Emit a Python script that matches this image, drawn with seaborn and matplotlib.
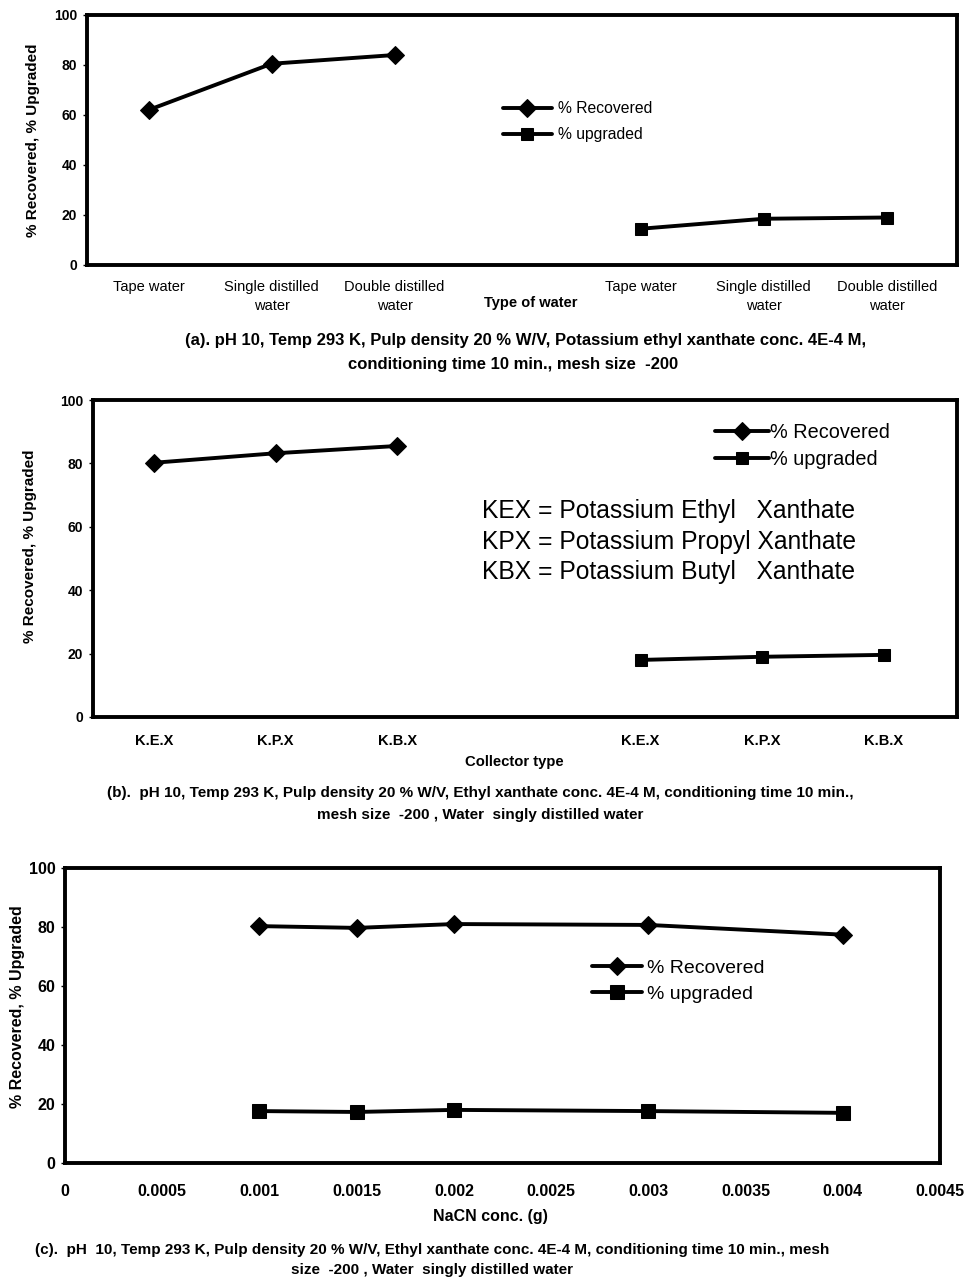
import matplotlib
matplotlib.use("Agg")
import matplotlib.pyplot as plt
import seaborn as sns
import numpy as np

# ---------------- data ----------------
water_labels = ["Tape water", "Single distilled\nwater", "Double distilled\nwater"]
a_recovered = [62, 80.5, 84]
a_upgraded = [14.5, 18.5, 19]

collector_labels = ["K.E.X", "K.P.X", "K.B.X"]
b_recovered = [80.2, 83.2, 85.5]
b_upgraded = [18, 19, 19.6]

nacn_conc = [0.001, 0.0015, 0.002, 0.003, 0.004]
c_recovered = [80.3, 79.7, 81, 80.7, 77.4]
c_upgraded = [17.6, 17.3, 18, 17.6, 17]

sns.set_style("white")
plt.rcParams['font.family'] = ['Liberation Sans', 'DejaVu Sans']
plt.rcParams.update({"text.color": "black", "axes.labelcolor": "black",
                     "xtick.color": "black", "ytick.color": "black"})

W, H = 964, 1277
fig = plt.figure(figsize=(W / 100, H / 100), dpi=100)


def add_ax(left, right, top, bottom):
    return fig.add_axes([left / W, 1 - bottom / H, (right - left) / W, (bottom - top) / H])


def style_ax(ax, tick_fs, label_fs):
    for s in ax.spines.values():
        s.set_visible(True)
        s.set_color("black")
        s.set_linewidth(2.8)
    ax.set_ylim(0, 100)
    ax.set_yticks([0, 20, 40, 60, 80, 100])
    ax.tick_params(axis="y", labelsize=tick_fs, length=3, width=1, direction="out", left=True,
                   pad=4, colors="black")
    for t in ax.get_yticklabels():
        t.set_fontweight("bold")
    ax.set_ylabel("% Recovered, % Upgraded", fontsize=label_fs, fontweight="bold", color="black")


def lines(ax, xr, yr, xu, yu, ms_d, ms_s, lw, legend_kw):
    sns.lineplot(x=xr, y=yr, ax=ax, color="black", marker="D", markersize=ms_d,
                 linewidth=lw, markeredgecolor="black", label="% Recovered")
    sns.lineplot(x=xu, y=yu, ax=ax, color="black", marker="s", markersize=ms_s,
                 linewidth=lw, markeredgecolor="black", label="% upgraded")
    leg = ax.legend(frameon=False, borderaxespad=0, borderpad=0, loc="center left", **legend_kw)
    for t in leg.get_texts():
        t.set_color("black")


# ---------------- panel (a) ----------------
ax = add_ax(87, 957, 15, 265)
pos_left = [0, 1, 2]
pos_right = [4, 5, 6]
lines(ax, pos_left, a_recovered, pos_right, a_upgraded, 9, 9, 2.8,
      dict(bbox_to_anchor=(0.478, 0.574), fontsize=11.3, handlelength=3.1,
           handletextpad=0.4, labelspacing=0.7))
style_ax(ax, 10, 11)
ax.set_xlim(-0.5, 6.57)
ax.set_xticks(pos_left + pos_right)
ax.set_xticklabels(water_labels + water_labels, fontsize=10.5, linespacing=1.45)
ax.tick_params(axis="x", length=0, pad=11, colors="black")
ax.set_xlabel("Type of water", fontsize=10.5, fontweight="bold")
ax.xaxis.set_label_coords(0.51, -0.124)
ax.yaxis.set_label_coords(-0.054, 0.5)
fig.text(526 / W, 1 - 341 / H,
         "(a). pH 10, Temp 293 K, Pulp density 20 % W/V, Potassium ethyl xanthate conc. 4E-4 M,",
         ha="center", va="center", fontsize=12, fontweight="bold")
fig.text(513 / W, 1 - 364 / H, "conditioning time 10 min., mesh size  -200",
         ha="center", va="center", fontsize=12, fontweight="bold")

# ---------------- panel (b) ----------------
ax = add_ax(93, 957, 400, 717)
lines(ax, pos_left, b_recovered, pos_right, b_upgraded, 9, 9, 2.8,
      dict(bbox_to_anchor=(0.72, 0.855), fontsize=14.3, handlelength=2.7,
           handletextpad=0.05, labelspacing=0.4))
style_ax(ax, 10, 11)
ax.set_xlim(-0.5, 6.6)
ax.set_xticks(pos_left + pos_right)
ax.set_xticklabels(collector_labels + collector_labels, fontsize=10.5, fontweight="bold")
ax.tick_params(axis="x", length=0, pad=12, colors="black")
ax.set_xlabel("Collector type", fontsize=10.7, fontweight="bold")
ax.xaxis.set_label_coords(0.488, -0.12)
ax.yaxis.set_label_coords(-0.065, 0.54)
for txt, yf in [("KEX = Potassium Ethyl   Xanthate", 0.65),
                ("KPX = Potassium Propyl Xanthate", 0.553),
                ("KBX = Potassium Butyl   Xanthate", 0.456)]:
    ax.text(0.45, yf, txt, transform=ax.transAxes, fontsize=17.7, va="center", ha="left",
            color="black")
fig.text(480 / W, 1 - 793 / H,
         "(b).  pH 10, Temp 293 K, Pulp density 20 % W/V, Ethyl xanthate conc. 4E-4 M, conditioning time 10 min.,",
         ha="center", va="center", fontsize=11, fontweight="bold")
fig.text(480 / W, 1 - 815 / H, "mesh size  -200 , Water  singly distilled water",
         ha="center", va="center", fontsize=11, fontweight="bold")

# ---------------- panel (c) ----------------
ax = add_ax(65, 940, 868, 1163)
lines(ax, nacn_conc, c_recovered, nacn_conc, c_upgraded, 9, 10, 2.8,
      dict(bbox_to_anchor=(0.602, 0.617), fontsize=14, handlelength=2.6,
           handletextpad=0.25, labelspacing=0.45))
style_ax(ax, 11.5, 11.5)
ax.set_xlim(0, 0.0045)
xt = [0, 0.0005, 0.001, 0.0015, 0.002, 0.0025, 0.003, 0.0035, 0.004, 0.0045]
ax.set_xticks(xt)
ax.set_xticklabels(["0", "0.0005", "0.001", "0.0015", "0.002", "0.0025", "0.003",
                    "0.0035", "0.004", "0.0045"], fontsize=11.5, fontweight="bold")
ax.tick_params(axis="x", length=0, pad=15, colors="black")
ax.set_xlabel("NaCN conc. (g)", fontsize=11.5, fontweight="bold")
ax.xaxis.set_label_coords(0.486, -0.156)
ax.yaxis.set_label_coords(-0.046, 0.529)
fig.text(432 / W, 1 - 1250 / H,
         "(c).  pH  10, Temp 293 K, Pulp density 20 % W/V, Ethyl xanthate conc. 4E-4 M, conditioning time 10 min., mesh",
         ha="center", va="center", fontsize=11, fontweight="bold")
fig.text(432 / W, 1 - 1270 / H, "size  -200 , Water  singly distilled water",
         ha="center", va="center", fontsize=11, fontweight="bold")

fig.savefig("out.png", dpi=100)
